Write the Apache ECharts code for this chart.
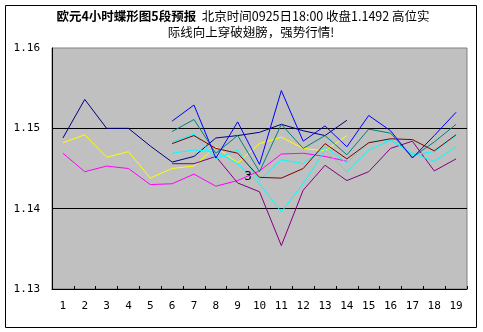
<!DOCTYPE html>
<html>
<head>
<meta charset="utf-8">
<script src="https://cdn.jsdelivr.net/npm/echarts@6/dist/echarts.min.js"></script>
<style>
  html, body { margin: 0; padding: 0; background: #fff; }
  #chart { width: 483px; height: 332px; }
</style>
</head>
<body>
<div id="chart"></div>
<script>
// Category labels along the bottom axis
const categories = ['1','2','3','4','5','6','7','8','9','10','11','12','13','14','15','16','17','18','19'];

// Value axis range and step
const yMin = 1.13;
const yMax = 1.16;
const yStep = 0.01;

// First wing group: periods 1-14
const navyLine = [1.1488, 1.1536, 1.1500, 1.1500, 1.1478, 1.1458, 1.1465, 1.1488, 1.1491, 1.1495, 1.1505, 1.1497, 1.1491, 1.1510];
const yellowLine = [1.1482, 1.1492, 1.1464, 1.1471, 1.1438, 1.1450, 1.1453, 1.1477, 1.1457, 1.1481, 1.1489, 1.1475, 1.1472, 1.1491];
const magentaLine = [1.1469, 1.1446, 1.1453, 1.1450, 1.1430, 1.1431, 1.1443, 1.1428, 1.1435, 1.1447, 1.1468, 1.1469, 1.1465, 1.1459];

// Second wing group: periods 6-19
const blueLine = [1.1509, 1.1529, 1.1463, 1.1508, 1.1455, 1.1547, 1.1484, 1.1503, 1.1477, 1.1516, 1.1497, 1.1463, 1.1491, 1.1520];
const tealLine = [1.1496, 1.1511, 1.1469, 1.1491, 1.1446, 1.1505, 1.1475, 1.1491, 1.1467, 1.1499, 1.1494, 1.1464, 1.1483, 1.1505];
const maroonLine = [1.1481, 1.1491, 1.1475, 1.1469, 1.1439, 1.1438, 1.1450, 1.1481, 1.1462, 1.1482, 1.1487, 1.1486, 1.1472, 1.1492];
const cyanUpper = [1.1483, 1.1493, 1.1462, 1.1473, 1.1435, 1.1461, 1.1456, 1.1477, 1.1457, 1.1483, 1.1486, 1.1467, 1.1471, 1.1491];
const cyanLower = [1.1469, 1.1473, 1.1471, 1.1456, 1.1431, 1.1396, 1.1431, 1.1473, 1.1446, 1.1473, 1.1485, 1.1469, 1.1459, 1.1477];
const purpleLine = [1.1456, 1.1456, 1.1465, 1.1432, 1.1421, 1.1354, 1.1423, 1.1454, 1.1435, 1.1446, 1.1475, 1.1484, 1.1447, 1.1462];

// Title lines
const titleBold = '欧元4小时蝶形图5段预报';
const titleRest = '北京时间0925日18:00 收盘1.1492 高位实';
const titleLine2 = '际线向上穿破翅膀，强势行情!';
const markText = '3';

// Place a series into the 19-period frame starting at a given period
function padded(values, startIndex) {
  const out = new Array(categories.length).fill(null);
  values.forEach((v, i) => { out[startIndex + i] = v; });
  return out;
}

function line(name, color, values, startIndex) {
  return {
    name: name,
    type: 'line',
    data: padded(values, startIndex),
    showSymbol: false,
    symbol: 'none',
    connectNulls: false,
    lineStyle: { color: color, width: 1 },
    itemStyle: { color: color },
    emphasis: { disabled: true },
    silent: true
  };
}

const chart = echarts.init(document.getElementById('chart'), null, { renderer: 'canvas' });

const tickFont = '"DejaVu Sans Mono", "Liberation Mono", monospace';
const cjkFont = '"Noto Sans CJK SC", "Noto Sans", sans-serif';

chart.setOption({
  animation: false,
  backgroundColor: '#ffffff',
  grid: {
    left: 52, right: 16, top: 48, bottom: 43,
    show: true,
    backgroundColor: '#c0c0c0',
    borderColor: '#808080',
    borderWidth: 1
  },
  xAxis: {
    type: 'category',
    data: categories,
    boundaryGap: true,
    axisLine: { show: true, lineStyle: { color: '#000', width: 1 } },
    axisTick: { show: true, inside: true, length: 3, interval: 0, lineStyle: { color: '#000' } },
    axisLabel: { color: '#000', fontSize: 11, fontFamily: tickFont, margin: 12, interval: 0 },
    splitLine: { show: false }
  },
  yAxis: {
    type: 'value',
    min: yMin,
    max: yMax,
    interval: yStep,
    axisLine: { show: true, lineStyle: { color: '#000', width: 1 } },
    axisTick: { show: false },
    axisLabel: {
      color: '#000', fontSize: 11, fontFamily: tickFont, margin: 12,
      formatter: v => v.toFixed(2)
    },
    splitLine: { show: true, showMaxLine: false, lineStyle: { color: '#000', width: 1 } }
  },
  series: [
    line('navy', '#000080', navyLine, 0),
    line('yellow', '#ffff00', yellowLine, 0),
    line('magenta', '#ff00ff', magentaLine, 0),
    line('purple', '#800080', purpleLine, 5),
    line('cyanLower', '#00ffff', cyanLower, 5),
    line('cyanUpper', '#00ffff', cyanUpper, 5),
    line('maroon', '#800000', maroonLine, 5),
    line('teal', '#008080', tealLine, 5),
    line('blue', '#0000ff', blueLine, 5)
  ],
  graphic: [
    {
      type: 'rect',
      shape: { x: 5.5, y: 5.5, width: 471, height: 322 },
      style: { fill: null, stroke: '#000', lineWidth: 1 },
      silent: true,
      z: 100
    },
    {
      type: 'text',
      x: 243, y: 16,
      style: {
        text: '{b|' + titleBold + '}  ' + titleRest,
        rich: { b: { fontWeight: 'bold', fontSize: 12.5, fontFamily: cjkFont, fill: '#000' } },
        fontSize: 12.5, fontFamily: cjkFont, fill: '#000',
        align: 'center', verticalAlign: 'middle'
      },
      silent: true
    },
    {
      type: 'text',
      x: 251, y: 32,
      style: {
        text: titleLine2,
        fontSize: 12.5, fontFamily: cjkFont, fill: '#000',
        align: 'center', verticalAlign: 'middle'
      },
      silent: true
    },
    {
      type: 'text',
      x: 248, y: 177,
      style: {
        text: markText,
        fontSize: 12, fontFamily: '"DejaVu Sans", sans-serif', fill: '#000',
        align: 'center', verticalAlign: 'middle'
      },
      silent: true,
      z: 50
    }
  ]
});
</script>
</body>
</html>
